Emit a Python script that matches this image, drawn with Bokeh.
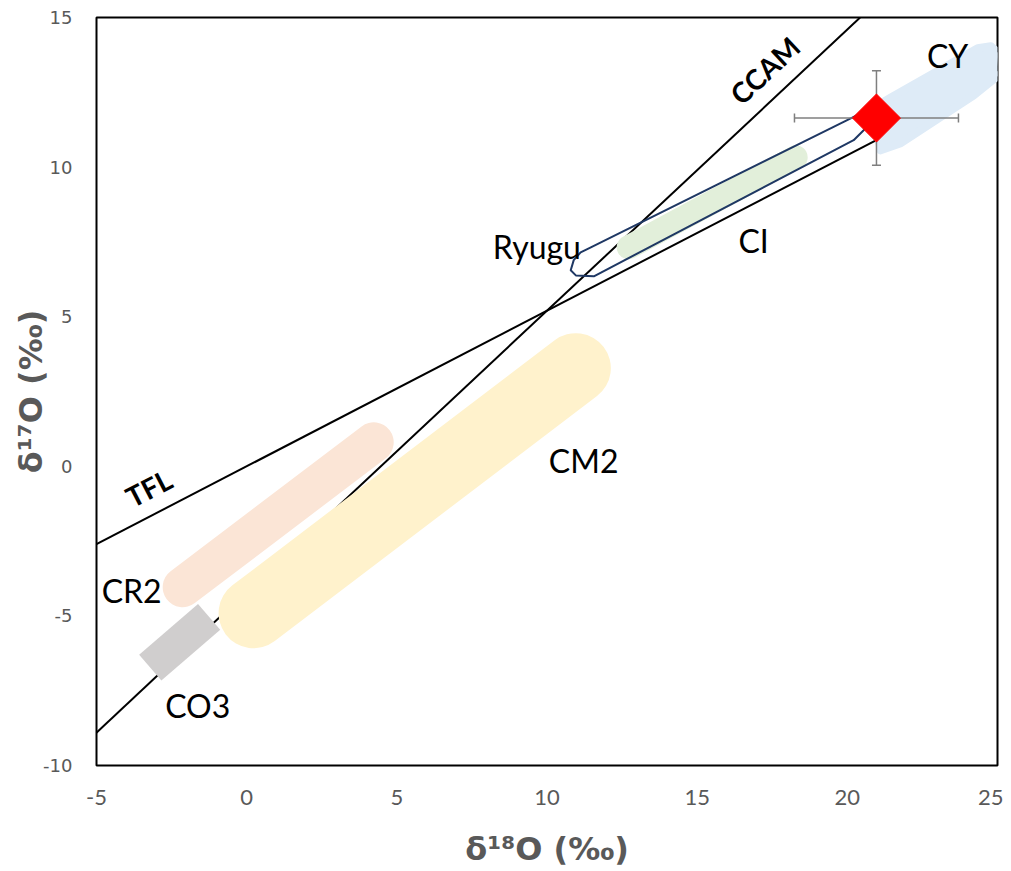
import math
from bokeh.plotting import figure
from bokeh.models import Range1d, FixedTicker, Slope
from bokeh.core.properties import value
from bokeh.embed import file_html
from bokeh.resources import INLINE

# ---- data ----
x_ticks = [-5, 0, 5, 10, 15, 20, 25]
y_ticks = [-10, -5, 0, 5, 10, 15]
x_title = "δ¹⁸O (‰)"
y_title = "δ¹⁷O (‰)"

# reference lines (slope, intercept)
tfl_slope, tfl_intercept = 0.52, 0.0
ccam_slope, ccam_intercept = 0.94, -4.2

# elongated chondrite fields: end points of their axis (d18O, d17O)
band_names = ["CR2", "CM2", "CI", "CO3"]
band_x0 = [-2.13, 0.23, 12.72, -3.21]
band_y0 = [-4.04, -4.91, 7.32, -6.73]
band_x1 = [4.23, 10.96, 18.28, -1.25]
band_y1 = [0.80, 3.28, 10.33, -5.03]

# CY field outline
cy_x = [20.95, 21.11, 21.78, 24.21, 25.17, 25.11, 24.78, 24.34, 21.45, 20.85]
cy_y = [11.43, 10.56, 10.80, 12.40, 13.17, 13.74, 14.04, 13.97, 12.33, 11.97]

# Ryugu field outline
ryugu_x = [10.79, 10.89, 11.12, 11.46, 20.18, 20.65, 20.78, 20.61, 20.21, 11.56, 10.96]
ryugu_y = [6.55, 6.89, 7.15, 7.32, 11.66, 11.90, 11.50, 11.30, 10.90, 6.35, 6.38]

# sample with errors
sample_x, sample_y = [20.97], [11.64]
sample_ex, sample_ey = [2.73], [1.58]

# labels
label_text = ["CY", "Ryugu", "CI", "CM2", "CR2", "CO3"]
label_x = [23.34, 9.66, 16.88, 11.22, -3.83, -1.63]
label_y = [13.74, 7.35, 7.55, 0.20, -4.14, -7.99]
line_label_text = ["CCAM", "TFL"]
line_label_x = [17.25, -3.26]
line_label_y = [13.24, -0.72]

# ---- styles ----
band_style = {
    "CR2": dict(color="#FBE5D6", width=40, cap="round"),
    "CM2": dict(color="#FFF2CC", width=70, cap="round"),
    "CI": dict(color="#E2EFDA", width=24, cap="round"),
    "CO3": dict(color="#D0CECE", width=34, cap="butt"),
}
gray = "#595959"

p = figure(width=1003, height=871, output_backend="svg", toolbar_location=None,
           x_range=Range1d(x_ticks[0], x_ticks[-1]), y_range=Range1d(y_ticks[0], y_ticks[-1]),
           min_border_left=96, min_border_right=6, min_border_top=17, min_border_bottom=106)
p.background_fill_color = "white"
p.border_fill_color = "white"
p.outline_line_color = "black"
p.outline_line_width = 2
p.xgrid.visible = False
p.ygrid.visible = False

p.xaxis.ticker = FixedTicker(ticks=x_ticks)
p.yaxis.ticker = FixedTicker(ticks=y_ticks)
p.xaxis.major_label_overrides = {t: str(t) for t in x_ticks}
p.yaxis.major_label_overrides = {t: str(t) for t in y_ticks}
for ax in (p.xaxis[0], p.yaxis[0]):
    ax.axis_line_color = None
    ax.major_tick_line_color = None
    ax.minor_tick_line_color = None
    ax.major_tick_out = 0
    ax.major_tick_in = 0
    ax.major_label_text_color = gray
    ax.axis_label_text_color = gray
    ax.axis_label_text_font_style = "bold"
    ax.axis_label_text_font = "DejaVu Sans"
    ax.axis_label_text_font_size = "32px"

p.xaxis.major_label_text_font = "Lato"
p.xaxis.major_label_text_font_size = "22px"
p.xaxis.major_label_standoff = 24
p.xaxis.axis_label = x_title
p.xaxis.axis_label_standoff = 22

p.yaxis.major_label_text_font = "DejaVu Sans"
p.yaxis.major_label_text_font_size = "18px"
p.yaxis.major_label_standoff = 24
p.yaxis.axis_label = y_title
p.yaxis.axis_label_standoff = -10

# reference lines (behind fields)
p.add_layout(Slope(gradient=ccam_slope, y_intercept=ccam_intercept, line_color="black",
                   line_width=2, level="underlay"))
p.add_layout(Slope(gradient=tfl_slope, y_intercept=tfl_intercept, line_color="black",
                   line_width=2, level="underlay"))

# CY field
p.patch(cy_x, cy_y, fill_color="#DEEBF7", line_color="#DEEBF7", line_width=8, line_join="round")

# elongated fields
for name, x0, y0, x1, y1 in zip(band_names, band_x0, band_y0, band_x1, band_y1):
    st = band_style[name]
    p.line([x0, x1], [y0, y1], line_color=st["color"], line_width=st["width"],
           line_cap=st["cap"])

# Ryugu outline
p.patch(ryugu_x, ryugu_y, fill_color=None, line_color="#1F3864", line_width=2, line_join="round")

# error bars
ex_lo = [x - e for x, e in zip(sample_x, sample_ex)]
ex_hi = [x + e for x, e in zip(sample_x, sample_ex)]
ey_lo = [y - e for y, e in zip(sample_y, sample_ey)]
ey_hi = [y + e for y, e in zip(sample_y, sample_ey)]
err_col = "#7F7F7F"
p.segment(x0=ex_lo, y0=sample_y, x1=ex_hi, y1=sample_y, line_color=err_col, line_width=1.5)
p.segment(x0=sample_x, y0=ey_lo, x1=sample_x, y1=ey_hi, line_color=err_col, line_width=1.5)
p.scatter(x=ex_lo + ex_hi, y=sample_y + sample_y, marker="dash", angle=math.pi / 2, size=9,
          line_color=err_col, line_width=1.5)
p.scatter(x=sample_x + sample_x, y=ey_lo + ey_hi, marker="dash", size=9,
          line_color=err_col, line_width=1.5)

# sample
p.scatter(x=sample_x, y=sample_y, marker="square", size=34, angle=math.pi / 4,
          fill_color="#FF0000", line_color="#FF0000")

# labels
p.text(x=label_x, y=label_y, text=label_text, text_font=value("Lato"), text_font_size="32px",
       text_align="center", text_baseline="alphabetic", text_color="black")
p.text(x=line_label_x, y=line_label_y, text=line_label_text, angle=[0.752, 0.478],
       text_font=value("Lato"), text_font_size="28px", text_font_style="bold",
       text_align="center", text_baseline="middle", text_color="black")

open("out.html", "w").write(file_html(p, INLINE))
